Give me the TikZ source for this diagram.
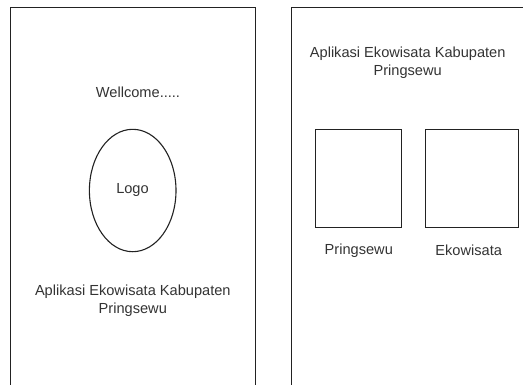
\documentclass[tikz,border=0pt]{standalone}
\usepackage{fontspec}
\setmainfont{Liberation Sans}
\usetikzlibrary{shapes.geometric}
\definecolor{ln}{HTML}{222222}
\definecolor{tx}{HTML}{333333}
\begin{document}
\begin{tikzpicture}[x=1pt,y=-1pt,
  screen/.style={draw=ln,line width=1.1pt,rectangle,inner sep=0pt},
  box/.style={draw=ln,line width=1.1pt,rectangle,inner sep=0pt},
  oval/.style={draw=ln,line width=1.1pt,ellipse,inner sep=0pt,minimum width=86.6pt,minimum height=122.4pt},
  lbl/.style={text=tx,font=\fontsize{14.6}{18.4}\selectfont,align=center,inner sep=0pt}]
\useasboundingbox (0,0) rectangle (523,384);
\clip (0,0) rectangle (523,384);
\node[screen,minimum width=245pt,minimum height=420pt] (s1) at (133,217.5) {};
\node[screen,minimum width=245pt,minimum height=420pt] (s2) at (414,217.5) {};
\node[lbl] (wel) at (138,92) {Wellcome.....};
\node[oval] (logo) at (132.7,190.5) {};
\node[lbl] (logot) at (132.5,190) {Logo};
\node[lbl] (t1) at (132.8,300.8) {Aplikasi Ekowisata Kabupaten\\Pringsewu};
\node[lbl] (t2) at (407.7,62.5) {Aplikasi Ekowisata Kabupaten\\Pringsewu};
\node[box,minimum width=86pt,minimum height=98pt] (b1) at (358.7,178.7) {};
\node[box,minimum width=92.6pt,minimum height=98pt] (b2) at (472,178.7) {};
\node[lbl] (l1) at (358.8,250.7) {Pringsewu};
\node[lbl] (l2) at (468.7,250.7) {Ekowisata};
\end{tikzpicture}
\end{document}
